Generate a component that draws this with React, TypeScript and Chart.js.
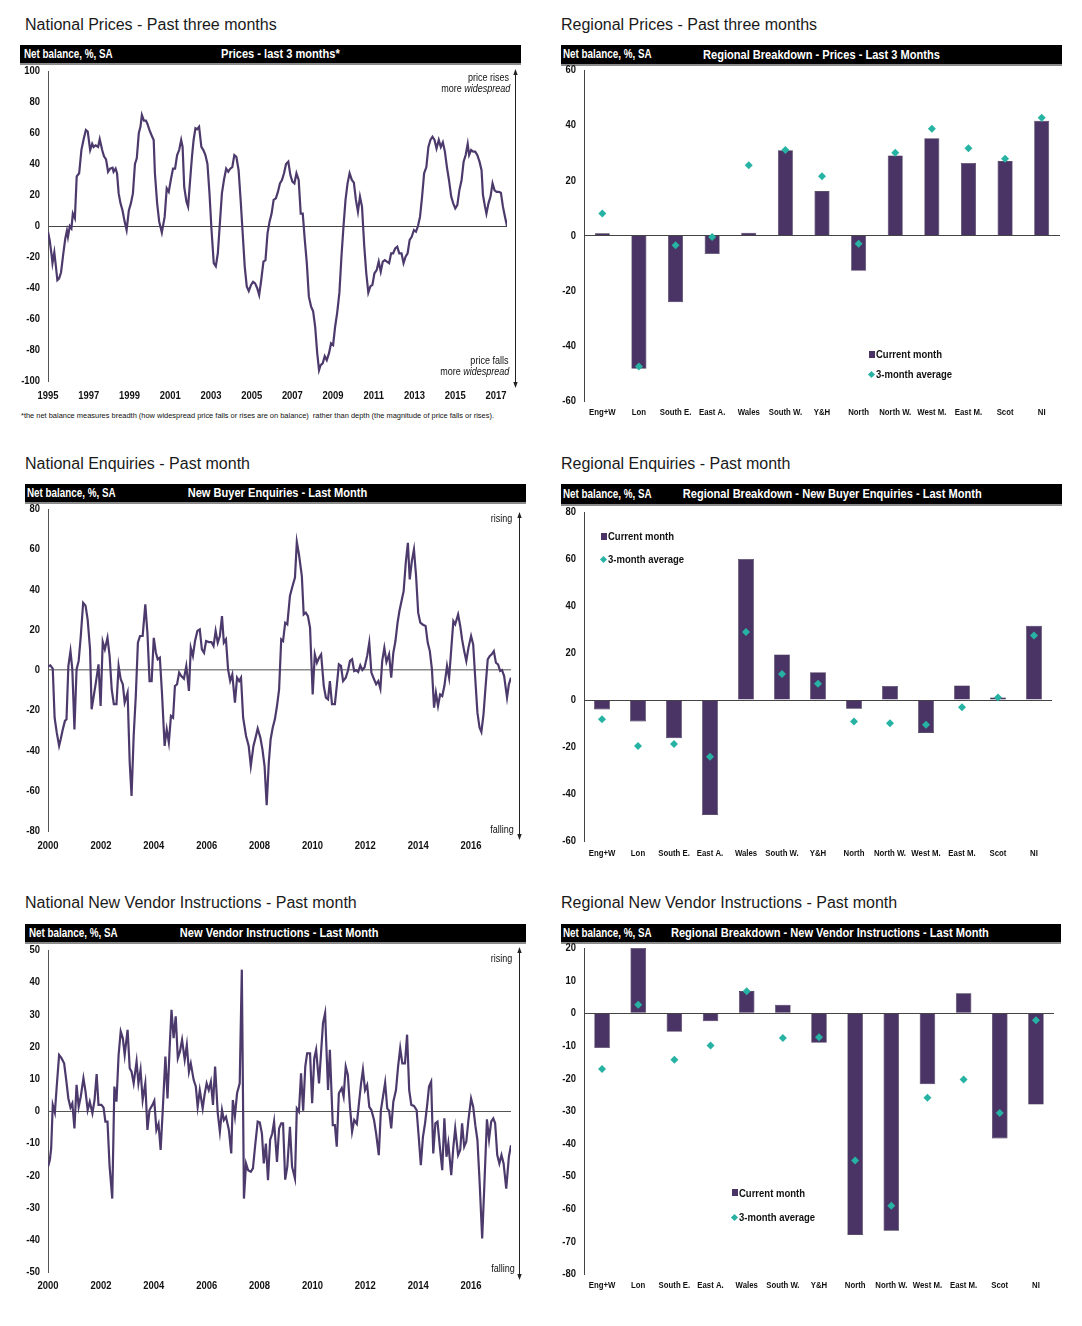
import React, { useEffect, useRef } from "react";
import { Chart, registerables } from "chart.js";

Chart.register(...registerables);

const SANS = "'Liberation Sans', Arial, Helvetica, sans-serif";
const SQUEEZE = 0.82;
const PURPLE = "#4a3466";
const LINE = "#4d3a6c";
const TEAL = "#27b3a3";

// ---------- National prices (last 3 months), 1995-2017 ----------
const pricesYears = [
  1995.00, 1995.08, 1995.17, 1995.22, 1995.31, 1995.37, 1995.46, 1995.54, 1995.64, 1995.75,
  1995.85, 1995.93, 1995.98, 1996.07, 1996.15, 1996.22, 1996.32, 1996.41, 1996.53, 1996.64,
  1996.75, 1996.86, 1996.95, 1997.07, 1997.17, 1997.24, 1997.34, 1997.46, 1997.54, 1997.66,
  1997.75, 1997.85, 1997.95, 1998.05, 1998.17, 1998.22, 1998.32, 1998.39, 1998.47, 1998.56,
  1998.66, 1998.76, 1998.86, 1998.97, 1999.07, 1999.17, 1999.27, 1999.36, 1999.46, 1999.54,
  1999.61, 1999.71, 1999.81, 1999.88, 1999.98, 2000.08, 2000.19, 2000.25, 2000.36, 2000.46,
  2000.59, 2000.73, 2000.83, 2000.93, 2001.03, 2001.14, 2001.24, 2001.34, 2001.44, 2001.54,
  2001.61, 2001.69, 2001.80, 2001.88, 2001.98, 2002.07, 2002.15, 2002.24, 2002.32, 2002.42,
  2002.53, 2002.63, 2002.73, 2002.83, 2002.93, 2003.03, 2003.14, 2003.24, 2003.34, 2003.44,
  2003.54, 2003.64, 2003.75, 2003.85, 2003.95, 2004.05, 2004.15, 2004.25, 2004.36, 2004.46,
  2004.56, 2004.66, 2004.76, 2004.86, 2004.97, 2005.07, 2005.17, 2005.27, 2005.37, 2005.47,
  2005.58, 2005.68, 2005.78, 2005.88, 2005.98, 2006.08, 2006.19, 2006.29, 2006.39, 2006.49,
  2006.59, 2006.69, 2006.80, 2006.90, 2007.00, 2007.10, 2007.20, 2007.31, 2007.41, 2007.51,
  2007.61, 2007.71, 2007.81, 2007.92, 2008.02, 2008.12, 2008.22, 2008.31, 2008.39, 2008.49,
  2008.59, 2008.69, 2008.80, 2008.90, 2009.00, 2009.10, 2009.20, 2009.31, 2009.41, 2009.51,
  2009.61, 2009.71, 2009.81, 2009.92, 2010.02, 2010.12, 2010.22, 2010.32, 2010.42, 2010.53,
  2010.63, 2010.73, 2010.83, 2010.93, 2011.03, 2011.14, 2011.24, 2011.34, 2011.44, 2011.54,
  2011.64, 2011.75, 2011.85, 2011.95, 2012.05, 2012.15, 2012.25, 2012.36, 2012.46, 2012.56,
  2012.66, 2012.76, 2012.86, 2012.97, 2013.07, 2013.17, 2013.27, 2013.37, 2013.47, 2013.58,
  2013.68, 2013.78, 2013.88, 2013.98, 2014.08, 2014.19, 2014.29, 2014.39, 2014.49, 2014.59,
  2014.69, 2014.80, 2014.90, 2015.00, 2015.10, 2015.20, 2015.31, 2015.41, 2015.51, 2015.61,
  2015.68, 2015.78, 2015.88, 2015.98, 2016.08, 2016.19, 2016.29, 2016.36, 2016.46, 2016.53,
  2016.63, 2016.73, 2016.83, 2016.93, 2017.03, 2017.14, 2017.24, 2017.34, 2017.44, 2017.54,
];
const pricesBalance = [
  -3.7, -9, -18, -24, -17, -24, -35, -34, -30, -18,
  -8, -3, -7, 0, -1.5, 8, 5, 32, 34, 49,
  56, 62, 61, 49, 53, 51, 52, 51, 56, 49,
  45, 43, 35, 37, 37.6, 35, 37, 34, 21, 14.6,
  10, 3, -2.6, 10, 14.6, 21, 40, 43.7, 60, 64,
  71.6, 68, 68, 66, 62, 58.7, 55.5, 34, 14.6, 2.8,
  -4.3, 6, 24.3, 22, 29.7, 37, 37, 45.8, 49, 55.5,
  51, 25, 15.7, 12.5, 29.7, 44.7, 55.5, 63, 62.4, 64,
  51, 49, 45.8, 40, 21, -2.6, -24, -26, -17.6, 1.7,
  21, 29.7, 37, 35, 37, 38, 45.8, 44.7, 36, 16.8,
  -4.7, -26, -39, -42, -38, -36, -37, -40, -44.5, -35,
  -23, -22, -4.7, 2.8, 8, 16.8, 17.8, 22, 27.5, 29.7,
  34, 40, 41.5, 33, 28.6, 27.5, 34, 29.7, 8, 8,
  -9, -24, -45.6, -52, -55, -65, -82, -93, -89.7, -88.6,
  -84, -86.5, -82, -75.7, -76.8, -65, -56, -43, -19.8, -0.4,
  16.8, 27.5, 34, 29.7, 28, 16.8, 9.2, 19, 12.5, -13,
  -30.5, -43, -39, -38, -30.5, -28.4, -23, -29.5, -23, -22,
  -23, -24, -17.6, -17.6, -14.4, -13.3, -17.6, -17.6, -24, -19.8,
  -17.6, -9, -7, -2.6, -3.7, 0, 6, 19, 34, 38,
  51, 55.5, 57.6, 55.5, 50, 55.5, 51, 54, 48, 38,
  29.7, 19, 14.6, 11.4, 13.5, 23, 29.7, 41.5, 45.8, 53,
  45.8, 49, 48, 48, 45.8, 41.5, 36, 20, 12.5, 8,
  14.6, 19, 27.5, 23, 22, 22, 21.5, 12.5, 6, 0,
];
const pricesYearTicks = [1995, 1997, 1999, 2001, 2003, 2005, 2007, 2009, 2011, 2013, 2015, 2017];

// ---------- National new buyer enquiries, 2000-2017 ----------
const enquiriesYears = [
  2000.00, 2000.09, 2000.18, 2000.25, 2000.33, 2000.42, 2000.48, 2000.56, 2000.64, 2000.70,
  2000.77, 2000.85, 2000.92, 2001.00, 2001.08, 2001.16, 2001.24, 2001.33, 2001.42, 2001.50,
  2001.59, 2001.65, 2001.73, 2001.81, 2001.91, 2001.99, 2002.07, 2002.15, 2002.25, 2002.33,
  2002.41, 2002.49, 2002.59, 2002.67, 2002.75, 2002.83, 2002.90, 2003.01, 2003.09, 2003.16,
  2003.24, 2003.32, 2003.40, 2003.48, 2003.58, 2003.68, 2003.76, 2003.84, 2003.92, 2004.00,
  2004.08, 2004.15, 2004.23, 2004.31, 2004.41, 2004.49, 2004.57, 2004.65, 2004.73, 2004.80,
  2004.88, 2004.96, 2005.04, 2005.14, 2005.23, 2005.33, 2005.40, 2005.48, 2005.56, 2005.65,
  2005.74, 2005.82, 2005.90, 2005.98, 2006.08, 2006.18, 2006.26, 2006.34, 2006.42, 2006.50,
  2006.58, 2006.65, 2006.73, 2006.81, 2006.89, 2006.97, 2007.07, 2007.15, 2007.23, 2007.30,
  2007.38, 2007.49, 2007.59, 2007.67, 2007.77, 2007.85, 2007.93, 2008.03, 2008.11, 2008.19,
  2008.27, 2008.35, 2008.42, 2008.50, 2008.58, 2008.66, 2008.74, 2008.82, 2008.89, 2008.97,
  2009.05, 2009.15, 2009.23, 2009.34, 2009.41, 2009.49, 2009.60, 2009.67, 2009.75, 2009.83,
  2009.91, 2010.01, 2010.09, 2010.17, 2010.25, 2010.33, 2010.43, 2010.51, 2010.59, 2010.66,
  2010.74, 2010.85, 2010.92, 2011.00, 2011.08, 2011.16, 2011.26, 2011.34, 2011.42, 2011.50,
  2011.58, 2011.65, 2011.73, 2011.81, 2011.89, 2011.97, 2012.07, 2012.15, 2012.23, 2012.33,
  2012.41, 2012.49, 2012.57, 2012.64, 2012.72, 2012.80, 2012.90, 2012.98, 2013.06, 2013.14,
  2013.22, 2013.29, 2013.37, 2013.45, 2013.53, 2013.61, 2013.68, 2013.76, 2013.84, 2013.92,
  2014.00, 2014.08, 2014.18, 2014.28, 2014.36, 2014.44, 2014.52, 2014.60, 2014.67, 2014.75,
  2014.83, 2014.91, 2014.99, 2015.09, 2015.17, 2015.25, 2015.33, 2015.40, 2015.51, 2015.59,
  2015.66, 2015.74, 2015.82, 2015.90, 2016.00, 2016.08, 2016.16, 2016.24, 2016.32, 2016.39,
  2016.47, 2016.55, 2016.63, 2016.71, 2016.78, 2016.86, 2016.94, 2017.02, 2017.10, 2017.17,
  2017.25, 2017.36, 2017.43, 2017.51,
];
const enquiriesBalance = [
  1.7, 2.3, 0.7, -23.7, -31, -37.7, -34.4, -29.5, -25.3, -24.5,
  2, 9.4, 0.3, -29.5, 0.3, 4.5, 16.9, 33.4, 32, 25,
  10.3, -19.5, -12.9, -6.3, 2.8, -17.9, 14, 10.3, 16, 7,
  -9.6, -17, -17, 2, -4.6, -7.1, -16.2, -11.3, -46, -62.6,
  -32.8, -12.9, 13.6, 16.9, 16.9, 32.6, 18.5, -5.5, -5.5, 16,
  8.6, 5.3, 6.1, -11.3, -37.7, -29.5, -36, -22.8, -23.7, -8,
  -7.1, -1.3, -3, -4.3, 2, -10.4, 11, 7, 14.4, 19.4,
  20.2, 10.3, 8.6, 14.4, 13.9, 13.9, 11.9, 19.4, 13.6, 16.9,
  26.8, 13.6, 15.2, 0.3, -5.5, -2.2, -16.2, -3.8, -5.5, -3.8,
  -23.7, -32.8, -37.7, -47.7, -37.7, -33.6, -29.1, -33.6, -39.4, -47.7,
  -67.2, -46, -34.4, -28.6, -24.5, -17.9, -9.6, 15.2, 14.4, 23.5,
  22.7, 36.8, 40.9, 45.9, 63.6, 57.5, 46.7, 27.6, 28.5, 26.8,
  21, -12.1, 7.8, 3.6, 6.1, 7.8, -8, -13.7, -14.6, -5.5,
  -17, -17, -8, 2.8, 2, -5.5, -3.8, -0.5, 4.5, 5.3,
  -0.5, 0, -1, 2.3, 0, 1.2, 7, 13.6, -1.3, -4.6,
  -7.1, -5.5, -9.3, 4.5, 11, 4, 7.8, -3.8, 8.6, 14.4,
  23.5, 29.3, 34.3, 39.2, 53.3, 63.2, 45, 54.1, 59.9, 46.7,
  28.5, 23.5, 22.5, 21.9, 13.6, 9.4, 0.3, -18.7, -11.3, -17.9,
  -12.1, -12.9, -8, 2, -3.8, 10.3, 24.3, 22.7, 27.6, 21.9,
  15.2, 9.4, 4.5, 11, 16.9, 12.7, -4.6, -21.2, -28.6, -30.8,
  -22, -8, 5.3, 7, 7.8, 9.4, 3.6, 2.8, -0.5, 0,
  -3, -13.7, -7.1, -3.8,
];

// ---------- National new vendor instructions, 2000-2017 ----------
const vendorYears = [
  2000.00, 2000.07, 2000.12, 2000.18, 2000.26, 2000.33, 2000.42, 2000.51, 2000.61, 2000.69,
  2000.77, 2000.85, 2000.92, 2001.00, 2001.08, 2001.16, 2001.24, 2001.34, 2001.42, 2001.50,
  2001.58, 2001.68, 2001.76, 2001.84, 2001.91, 2002.02, 2002.10, 2002.17, 2002.25, 2002.33,
  2002.43, 2002.51, 2002.59, 2002.67, 2002.75, 2002.83, 2002.90, 2003.01, 2003.09, 2003.16,
  2003.24, 2003.35, 2003.42, 2003.50, 2003.58, 2003.68, 2003.76, 2003.84, 2003.95, 2004.02,
  2004.10, 2004.18, 2004.26, 2004.34, 2004.44, 2004.52, 2004.60, 2004.67, 2004.75, 2004.83,
  2004.91, 2004.99, 2005.07, 2005.17, 2005.25, 2005.33, 2005.40, 2005.51, 2005.59, 2005.66,
  2005.74, 2005.85, 2005.92, 2006.00, 2006.08, 2006.16, 2006.24, 2006.32, 2006.42, 2006.50,
  2006.58, 2006.65, 2006.73, 2006.84, 2006.93, 2006.99, 2007.07, 2007.15, 2007.25, 2007.33,
  2007.41, 2007.49, 2007.57, 2007.67, 2007.75, 2007.83, 2007.93, 2008.01, 2008.09, 2008.16,
  2008.24, 2008.32, 2008.40, 2008.48, 2008.55, 2008.66, 2008.74, 2008.82, 2008.89, 2008.97,
  2009.05, 2009.15, 2009.23, 2009.34, 2009.41, 2009.49, 2009.57, 2009.65, 2009.73, 2009.80,
  2009.91, 2009.99, 2010.07, 2010.14, 2010.25, 2010.33, 2010.40, 2010.48, 2010.59, 2010.66,
  2010.77, 2010.85, 2010.92, 2011.00, 2011.11, 2011.18, 2011.26, 2011.34, 2011.42, 2011.50,
  2011.58, 2011.68, 2011.76, 2011.84, 2011.91, 2011.99, 2012.07, 2012.15, 2012.23, 2012.33,
  2012.41, 2012.51, 2012.59, 2012.67, 2012.75, 2012.83, 2012.90, 2012.98, 2013.06, 2013.16,
  2013.24, 2013.32, 2013.40, 2013.50, 2013.58, 2013.66, 2013.74, 2013.84, 2013.94, 2014.02,
  2014.10, 2014.18, 2014.26, 2014.34, 2014.41, 2014.49, 2014.57, 2014.65, 2014.73, 2014.83,
  2014.91, 2014.99, 2015.07, 2015.14, 2015.25, 2015.33, 2015.40, 2015.51, 2015.59, 2015.66,
  2015.74, 2015.82, 2015.90, 2016.00, 2016.08, 2016.16, 2016.24, 2016.32, 2016.42, 2016.50,
  2016.60, 2016.68, 2016.76, 2016.84, 2016.91, 2016.99, 2017.07, 2017.15, 2017.23, 2017.33,
  2017.43, 2017.51,
];
const vendorBalance = [
  -17.3, -15.2, -11.6, 1.9, -0.5, 7.6, 17.4, 16.4, 14.8, 9.6,
  3.9, 1.1, 2.4, -5.4, 8.1, 1.3, 4.5, 10.2, 6, 0.3,
  2.9, -0.7, 3.4, 11.5, 1.9, 1.9, 1.1, -3.3, -3.3, -17.3,
  -27.2, 7.6, 2.9, 17.4, 24.7, 22.6, 17.4, 25.2, 13.3, 12.2,
  8.6, 15.4, 8.6, 12.8, 3.4, 8.6, -5.9, 0.3, 1.9, 3.2,
  -5.9, -4, -12.1, 0.3, 16.9, 3.9, 19.5, 31.4, 22.6, 29.4,
  16.4, 18.5, 22.1, 15.9, 20.5, 12.2, 14.8, 9.6, 7.6, 1.3,
  6.5, 0.8, 5, 8.6, 6.5, 9.1, 1.9, 13.8, -0.7, -6.4,
  0.3, -2.8, -1.8, -5.9, -13.2, 3.4, -1.6, 5.5, 8.6, 43.9,
  -27.2, -16.3, -18.4, -18.9, -17.8, -11.1, -3.3, -3.6, -7, -16.3,
  -10.1, -21.5, -9, -7, -3.3, -15.8, -5.4, -3.8, -3.8, -21.3,
  -17.3, -4.9, -17.3, -21, 0.8, -0.2, 11.7, 0.1, 13.8, 17.9,
  17.9, 2.4, 16.4, 19, 8.6, 18.5, 27.3, 30.4, 6.5, 19,
  -4.4, -4.4, -11.1, 5.5, 7.1, 4.5, 13.8, 11.2, 1.3, -6.4,
  -2.8, -4, 2.4, 8.6, 12.8, 6.5, 8.1, 1.3, 0.3, -2.8,
  -7, -13.7, 0.3, 4.5, 8.8, 0.8, 0.1, -5.4, 2.9, 6.5,
  13.8, 19.5, 14.8, 14.8, 23.7, 6.5, 1.9, 1.6, 0.3, -8,
  -16.8, -8, -3.8, 1.9, 7.6, 9.1, -13.2, -3.8, -3.3, -12.1,
  -18.4, -2.3, -14.2, -10.1, -19.9, -11.1, -5.4, -13.7, -12.1, -3.8,
  -11.1, -9.5, -2.8, 3.9, 1.3, -4.4, -9, -21.5, -39.6, -23.5,
  -2.6, -8.8, -3.3, -2.3, -3.8, -13.7, -16.3, -13.7, -16.3, -24.1,
  -14.2, -10.6,
];
const evenYearTicks = [2000, 2002, 2004, 2006, 2008, 2010, 2012, 2014, 2016];

// ---------- Regional breakdowns ----------
const regions = ["Eng+W", "Lon", "South E.", "East A.", "Wales", "South W.", "Y&H", "North", "North W.", "West M.", "East M.", "Scot", "NI"];
const regPricesCurrent = [0.8, -48.3, -24.2, -6.7, 1, 30.9, 16.1, -12.8, 29, 35.3, 26.3, 27, 41.6];
const regPricesAvg = [8, -47.5, -3.5, -0.5, 25.5, 31, 21.5, -3, 30, 38.7, 31.6, 27.8, 42.7];
const regEnquiriesCurrent = [-4, -9.1, -16.3, -48.9, 60, 19.4, 11.8, -3.7, 6, -14, 6.2, 1.1, 31.6];
const regEnquiriesAvg = [-8.2, -19.6, -18.7, -24.1, 28.9, 11.1, 6.9, -9.1, -9.9, -10.5, -3.1, 1.1, 27.5];
const regVendorCurrent = [-10.7, 20, -5.7, -2.5, 6.8, 2.6, -9.1, -68, -66.7, -21.8, 6.1, -38.4, -28];
const regVendorAvg = [-17.1, 2.6, -14.3, -9.9, 6.7, -7.6, -7.4, -45.2, -59.1, -25.9, -20.3, -30.6, -2.2];

type Rect = { x: number; y: number; w: number; h: number };
type Area = { l: number; t: number; r: number; b: number };

function padFor(c: Rect, a: Area, yW: number, xH: number) {
  return {
    left: a.l - c.x - yW,
    top: a.t - c.y,
    right: c.x + c.w - a.r,
    bottom: c.y + c.h - a.b - xH,
  };
}

function squeezedText(ctx: CanvasRenderingContext2D, s: string, x: number, y: number) {
  ctx.save();
  ctx.translate(x, y);
  ctx.scale(SQUEEZE, 1);
  ctx.fillText(s, 0, 0);
  ctx.restore();
}

// draws the axis tick labels of the library's scales in a condensed face
const narrowTicks = {
  id: "narrowTicks",
  afterDraw(chart: any, _args: any, o: any) {
    if (!o || !o.show) return;
    const { ctx, chartArea } = chart;
    const xs = chart.scales.x;
    const ys = chart.scales.y;
    ctx.save();
    ctx.fillStyle = "#111";
    ctx.textBaseline = "middle";
    ctx.font = `bold ${o.xSize}px ${SANS}`;
    ctx.textAlign = "center";
    xs.ticks.forEach((t: any, i: number) => {
      const label = xs.type === "category" ? String(xs.getLabelForValue(t.value)) : String(t.value);
      squeezedText(ctx, label, xs.getPixelForTick(i), chartArea.bottom + o.xOffset);
    });
    ctx.font = `bold ${o.ySize}px ${SANS}`;
    ctx.textAlign = "right";
    ys.ticks.forEach((t: any, i: number) => {
      squeezedText(ctx, String(t.value), chartArea.left - o.yPad, ys.getPixelForTick(i));
    });
    ctx.restore();
  },
};

const sideArrow = {
  id: "sideArrow",
  afterDraw(chart: any, _args: any, opts: any) {
    if (!opts || !opts.show) return;
    const { ctx, chartArea } = chart;
    const x = Math.round(chartArea.right + opts.dx) + 0.5;
    const y1 = chartArea.top + opts.dyTop;
    const y2 = chartArea.bottom + opts.dyBottom;
    ctx.save();
    ctx.strokeStyle = "#222";
    ctx.fillStyle = "#222";
    ctx.lineWidth = 1;
    ctx.beginPath();
    ctx.moveTo(x, y1 + 4);
    ctx.lineTo(x, y2 - 4);
    ctx.stroke();
    ctx.beginPath();
    ctx.moveTo(x, y1);
    ctx.lineTo(x - 2.2, y1 + 6);
    ctx.lineTo(x + 2.2, y1 + 6);
    ctx.closePath();
    ctx.fill();
    ctx.beginPath();
    ctx.moveTo(x, y2);
    ctx.lineTo(x - 2.2, y2 - 6);
    ctx.lineTo(x + 2.2, y2 - 6);
    ctx.closePath();
    ctx.fill();
    ctx.restore();
  },
};

const Y_W = 38;

type LineProps = {
  c: Rect; a: Area; xs: number[]; ys: number[]; xMin: number; xMax: number;
  yMin: number; yMax: number; yStep: number; xTicks: number[]; labelOffset: number;
  arrow: { dx: number; dyTop: number; dyBottom: number }; zeroColor: string; zeroWidth: number;
};

function LinePanel(p: LineProps) {
  const ref = useRef<HTMLCanvasElement>(null);
  useEffect(() => {
    const xH = 24;
    const pts = p.xs.map((x, i) => ({ x, y: p.ys[i] }));
    const chart = new Chart(ref.current as HTMLCanvasElement, {
      type: "line",
      data: {
        datasets: [
          { data: pts as any, borderColor: LINE, borderWidth: 2.2, pointRadius: 0, tension: 0, fill: false },
        ],
      },
      options: {
        responsive: false,
        animation: false,
        events: [],
        layout: { padding: padFor(p.c, p.a, Y_W, xH) },
        plugins: {
          legend: { display: false },
          tooltip: { enabled: false },
          sideArrow: { show: true, ...p.arrow },
          narrowTicks: { show: true, xSize: 11.5, ySize: 11.5, xOffset: p.labelOffset, yPad: 8 },
        } as any,
        scales: {
          x: {
            type: "linear",
            min: p.xMin,
            max: p.xMax,
            afterBuildTicks: (ax: any) => {
              ax.ticks = p.xTicks.map((v) => ({ value: v }));
            },
            afterFit: (ax: any) => {
              ax.height = xH;
            },
            grid: { display: false, drawTicks: false },
            border: { display: false },
            ticks: { display: false },
          },
          y: {
            min: p.yMin,
            max: p.yMax,
            afterFit: (ax: any) => {
              ax.width = Y_W;
            },
            grid: {
              drawTicks: false,
              color: (ctx: any) => (ctx.tick && ctx.tick.value === 0 ? p.zeroColor : "rgba(0,0,0,0)"),
              lineWidth: (ctx: any) => (ctx.tick && ctx.tick.value === 0 ? p.zeroWidth : 1),
            },
            border: { display: true, color: "#555", width: 1 },
            ticks: { stepSize: p.yStep, display: false },
          },
        },
      },
      plugins: [sideArrow as any, narrowTicks as any],
    });
    return () => chart.destroy();
  }, []);
  return (
    <canvas
      ref={ref}
      width={p.c.w}
      height={p.c.h}
      style={{ position: "absolute", left: p.c.x, top: p.c.y, width: p.c.w, height: p.c.h }}
    />
  );
}

type BarProps = {
  c: Rect; a: Area; cur: number[]; avg: number[]; yMin: number; yMax: number; yStep: number;
  barPct: number; labelOffset: number; xH: number;
};

function BarPanel(p: BarProps) {
  const ref = useRef<HTMLCanvasElement>(null);
  useEffect(() => {
    const chart = new Chart(ref.current as HTMLCanvasElement, {
      type: "bar",
      data: {
        labels: regions,
        datasets: [
          {
            type: "line",
            label: "3-month average",
            data: p.avg,
            showLine: false,
            pointStyle: "rectRot",
            pointRadius: 4,
            pointBackgroundColor: TEAL,
            pointBorderColor: TEAL,
            pointBorderWidth: 0,
            order: 0,
          } as any,
          {
            type: "bar",
            label: "Current month",
            data: p.cur,
            backgroundColor: PURPLE,
            borderColor: "#2e2240",
            borderWidth: 0.6,
            barPercentage: p.barPct,
            categoryPercentage: 1,
            order: 1,
          },
        ],
      },
      options: {
        responsive: false,
        animation: false,
        events: [],
        layout: { padding: padFor(p.c, p.a, Y_W, p.xH) },
        plugins: {
          legend: { display: false },
          tooltip: { enabled: false },
          narrowTicks: { show: true, xSize: 9.5, ySize: 11.5, xOffset: p.labelOffset, yPad: 8 },
        } as any,
        scales: {
          x: {
            offset: true,
            afterFit: (ax: any) => {
              ax.height = p.xH;
            },
            grid: { display: false, drawTicks: false },
            border: { display: false },
            ticks: { display: false, autoSkip: false },
          },
          y: {
            min: p.yMin,
            max: p.yMax,
            afterFit: (ax: any) => {
              ax.width = Y_W;
            },
            grid: {
              drawTicks: false,
              color: (ctx: any) => (ctx.tick && ctx.tick.value === 0 ? "#444" : "rgba(0,0,0,0)"),
              lineWidth: 1,
            },
            border: { display: true, color: "#444", width: 1 },
            ticks: { stepSize: p.yStep, display: false },
          },
        },
      },
      plugins: [narrowTicks as any],
    });
    return () => chart.destroy();
  }, []);
  return (
    <canvas
      ref={ref}
      width={p.c.w}
      height={p.c.h}
      style={{ position: "absolute", left: p.c.x, top: p.c.y, width: p.c.w, height: p.c.h }}
    />
  );
}

function Squeeze({ children, origin }: { children: React.ReactNode; origin: string }) {
  return (
    <span style={{ display: "inline-block", transform: `scaleX(${SQUEEZE})`, transformOrigin: origin }}>
      {children}
    </span>
  );
}

function Title({ x, cy, text }: { x: number; cy: number; text: string }) {
  return (
    <div
      style={{
        position: "absolute", left: x, top: cy - 10, height: 20, lineHeight: "20px",
        fontFamily: SANS, fontSize: 16, color: "#1a1a1a", whiteSpace: "nowrap",
      }}
    >
      {text}
    </div>
  );
}

function Header({ x, y, w, h, lx, cx, title }: { x: number; y: number; w: number; h: number; lx: number; cx: number; title: string }) {
  return (
    <div
      style={{
        position: "absolute", left: x, top: y, width: w, height: h, background: "#000",
        borderBottom: "2px solid #8a8a8a", boxSizing: "content-box",
      }}
    >
      <div
        style={{
          position: "absolute", left: lx - x, top: 0, height: h, lineHeight: h + "px",
          fontFamily: SANS, fontWeight: "bold", fontSize: 12, color: "#fff", whiteSpace: "nowrap",
        }}
      >
        <Squeeze origin="left center">Net balance, %, SA</Squeeze>
      </div>
      <div
        style={{
          position: "absolute", left: cx - x - 250, width: 500, textAlign: "center", top: 0, height: h,
          lineHeight: h + "px", fontFamily: SANS, fontWeight: "bold", fontSize: 13.5, color: "#fff",
          whiteSpace: "nowrap",
        }}
      >
        <Squeeze origin="center center">{title}</Squeeze>
      </div>
    </div>
  );
}

function Note({ right, cy, children }: { right: number; cy: number; children: React.ReactNode }) {
  return (
    <div
      style={{
        position: "absolute", left: right - 200, width: 200, textAlign: "right", top: cy - 7, height: 14,
        lineHeight: "14px", fontFamily: SANS, fontSize: 11, color: "#111", whiteSpace: "nowrap",
      }}
    >
      <Squeeze origin="right center">{children}</Squeeze>
    </div>
  );
}

function Legend({ sx, sy, tx, cy1, cy2, dx }: { sx: number; sy: number; tx: number; cy1: number; cy2: number; dx: number }) {
  const txt: React.CSSProperties = {
    position: "absolute", left: tx, height: 14, lineHeight: "14px", fontFamily: SANS, fontWeight: "bold",
    fontSize: 11.6, color: "#111", whiteSpace: "nowrap",
  };
  return (
    <>
      <div style={{ position: "absolute", left: sx, top: sy, width: 6, height: 7, background: PURPLE }} />
      <div style={{ ...txt, top: cy1 - 7 }}>
        <Squeeze origin="left center">Current month</Squeeze>
      </div>
      <div
        style={{
          position: "absolute", left: dx - 2.5, top: cy2 - 2.5, width: 5, height: 5, background: TEAL,
          transform: "rotate(45deg)",
        }}
      />
      <div style={{ ...txt, top: cy2 - 7 }}>
        <Squeeze origin="left center">3-month average</Squeeze>
      </div>
    </>
  );
}

export default function App() {
  return (
    <div
      style={{
        position: "absolute", left: 0, top: 0, width: 1082, height: 1326, background: "#fff", overflow: "hidden",
      }}
    >
      {/* Row 1 */}
      <Title x={25} cy={25} text="National Prices - Past three months" />
      <Title x={561} cy={25} text="Regional Prices - Past three months" />
      <Header x={20} y={45} w={501} h={18} lx={24} cx={280} title="Prices - last 3 months*" />
      <Header x={561} y={45} w={501} h={19} lx={563} cx={821} title="Regional Breakdown - Prices - Last 3 Months" />
      <LinePanel
        c={{ x: 10, y: 60, w: 515, h: 345 }}
        a={{ l: 48, t: 71, r: 507, b: 381 }}
        xs={pricesYears}
        ys={pricesBalance}
        xMin={1995}
        xMax={2017.54}
        yMin={-100}
        yMax={100}
        yStep={20}
        xTicks={pricesYearTicks}
        labelOffset={14.7}
        arrow={{ dx: 8, dyTop: -2, dyBottom: 7 }}
        zeroColor="#444"
        zeroWidth={1}
      />
      <Note right={509} cy={77}>price rises</Note>
      <Note right={510} cy={88}>more <i>widespread</i></Note>
      <Note right={508} cy={360}>price falls</Note>
      <Note right={509} cy={371}>more <i>widespread</i></Note>
      <div
        style={{
          position: "absolute", left: 21, top: 411, height: 10, lineHeight: "10px", fontFamily: SANS,
          fontSize: 7.45, color: "#111", whiteSpace: "nowrap",
        }}
      >
        *the net balance measures breadth (how widespread price falls or rises are on balance)&nbsp; rather than depth (the magnitude of price falls or rises).
      </div>
      <BarPanel
        c={{ x: 546, y: 58, w: 520, h: 362 }}
        a={{ l: 584, t: 70, r: 1060, b: 401 }}
        cur={regPricesCurrent}
        avg={regPricesAvg}
        yMin={-60}
        yMax={60}
        yStep={20}
        barPct={0.41}
        labelOffset={11.7}
        xH={19}
      />
      <Legend sx={869} sy={351} tx={876} cy1={354} cy2={374} dx={871.5} />

      {/* Row 2 */}
      <Title x={25} cy={464} text="National Enquiries - Past month" />
      <Title x={561} cy={464} text="Regional Enquiries - Past month" />
      <Header x={25} y={484} w={501} h={18} lx={27} cx={278} title="New Buyer Enquiries - Last Month" />
      <Header x={561} y={484} w={501} h={20} lx={563} cx={832} title="Regional Breakdown - New Buyer Enquiries - Last Month" />
      <LinePanel
        c={{ x: 10, y: 498, w: 520, h: 357 }}
        a={{ l: 48, t: 509, r: 511, b: 831 }}
        xs={enquiriesYears}
        ys={enquiriesBalance}
        xMin={2000}
        xMax={2017.51}
        yMin={-80}
        yMax={80}
        yStep={20}
        xTicks={evenYearTicks}
        labelOffset={14.7}
        arrow={{ dx: 8, dyTop: 3, dyBottom: 9 }}
        zeroColor="#8a8a8a"
        zeroWidth={1.5}
      />
      <Note right={512} cy={518}>rising</Note>
      <Note right={514} cy={829}>falling</Note>
      <BarPanel
        c={{ x: 546, y: 500, w: 520, h: 362 }}
        a={{ l: 584, t: 512, r: 1052, b: 841 }}
        cur={regEnquiriesCurrent}
        avg={regEnquiriesAvg}
        yMin={-60}
        yMax={80}
        yStep={20}
        barPct={0.44}
        labelOffset={12.7}
        xH={21}
      />
      <Legend sx={601} sy={533} tx={608} cy1={536} cy2={559} dx={603.5} />

      {/* Row 3 */}
      <Title x={25} cy={903} text="National New Vendor Instructions - Past month" />
      <Title x={561} cy={903} text="Regional New Vendor Instructions - Past month" />
      <Header x={25} y={924} w={501} h={18} lx={29} cx={279} title="New Vendor Instructions - Last Month" />
      <Header x={561} y={924} w={500} h={18} lx={563} cx={830} title="Regional Breakdown - New Vendor Instructions - Last Month" />
      <LinePanel
        c={{ x: 10, y: 938, w: 520, h: 358 }}
        a={{ l: 48, t: 950, r: 511, b: 1272 }}
        xs={vendorYears}
        ys={vendorBalance}
        xMin={2000}
        xMax={2017.51}
        yMin={-50}
        yMax={50}
        yStep={10}
        xTicks={evenYearTicks}
        labelOffset={13.7}
        arrow={{ dx: 8, dyTop: -3, dyBottom: 8 }}
        zeroColor="#555"
        zeroWidth={1}
      />
      <Note right={512} cy={958}>rising</Note>
      <Note right={515} cy={1268}>falling</Note>
      <BarPanel
        c={{ x: 546, y: 936, w: 520, h: 358 }}
        a={{ l: 584, t: 948, r: 1054, b: 1274 }}
        cur={regVendorCurrent}
        avg={regVendorAvg}
        yMin={-80}
        yMax={20}
        yStep={10}
        barPct={0.43}
        labelOffset={11.7}
        xH={20}
      />
      <Legend sx={732} sy={1189} tx={739} cy1={1193} cy2={1217} dx={734.5} />
    </div>
  );
}
